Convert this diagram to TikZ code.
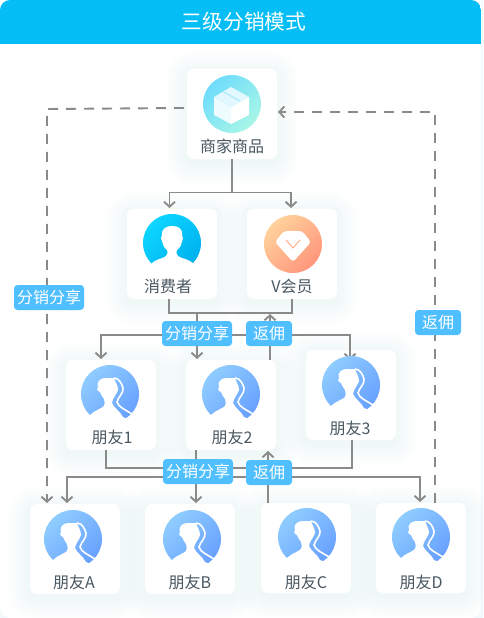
\documentclass[tikz,border=0pt]{standalone}
\usepackage{fontspec}
\setmainfont{Noto Sans CJK SC}
\usetikzlibrary{arrows.meta,calc}
\definecolor{hdr}{HTML}{05BEF5}
\definecolor{pagebg}{HTML}{E6F4FC}
\definecolor{linec}{HTML}{8A8A8A}
\definecolor{txt}{HTML}{4A5862}
\definecolor{badge}{HTML}{50BFFF}
\definecolor{shad}{HTML}{4FA8E8}
\definecolor{frA}{HTML}{8FCDFF}
\definecolor{frB}{HTML}{68A0FF}
\definecolor{cyA}{HTML}{0CD6FF}
\definecolor{cyB}{HTML}{00B0EF}
\definecolor{shopA}{HTML}{6EDCFC}
\definecolor{shopB}{HTML}{A8F6E6}
\definecolor{vipA}{HTML}{FFD29C}
\definecolor{vipB}{HTML}{FF967C}
\tikzset{
 x=1pt,y=-1pt,
 card/.style={fill=white,rounded corners=7pt,minimum width=90pt,minimum height=90pt,inner sep=0pt,outer sep=0pt},
 cardtext/.style={text=txt,font=\fontsize{16}{16}\selectfont,inner sep=0pt},
 badgebox/.style={fill=badge,text=white,rounded corners=3.5pt,font=\fontsize{16}{16}\selectfont,minimum height=25pt,inner sep=0pt,outer sep=0pt},
 conn/.style={draw=linec,line width=1.9pt},
 arrowed/.style={conn,-{Straight Barb[length=5pt,width=11pt,line width=1.9pt]}},
 dashline/.style={conn,dash pattern=on 10pt off 8pt},
 dasharrow/.style={dashline,-{Straight Barb[length=5pt,width=11pt,line width=1.9pt]}},
}
\newcommand{\softshadow}[2]{%
 \foreach \g in {22,19,...,1}{%
  \fill[shad,opacity=0.0065,rounded corners=\g pt+6pt]
   ($(#1,#2)+(-45-\g,-45-\g+4)$) rectangle ($(#1,#2)+(45+\g,45+\g+4)$);}}
\newcommand{\consumericon}[2]{%
 \begin{scope}[shift={(#1,#2)}]
  \shade[left color=cyA,right color=cyB,shading angle=45] (0,0) circle[radius=29];
  \fill[white] (-21,21) .. controls (-15,15) and (-9,16) .. (-6,13) .. controls (-4,11) and (-4,9) .. (-5,7)
   .. controls (-9,4) and (-9,1) .. (-10,-2) .. controls (-12,-4) and (-11,-7) .. (-10,-7)
   .. controls (-11,-15) and (-5,-17) .. (0,-17) .. controls (6,-17) and (11,-15) .. (10,-7)
   .. controls (11,-6) and (12,-4) .. (10,-2) .. controls (9,2) and (9,4) .. (5,7)
   .. controls (4,9) and (4,11) .. (6,13) .. controls (10,16) and (15,15) .. (22,21)
   -- (26,40) -- (-26,40) -- cycle;
 \end{scope}}
\newcommand{\personicon}[2]{%
 \begin{scope}[shift={(#1,#2)}]
  \shade[left color=frA,right color=frB,shading angle=45] (0,0) circle[radius=29];
  \fill[white] (-20,21) .. controls (-15,16) and (-9,15) .. (-6,12) .. controls (-5,10) and (-5,8) .. (-6,5)
   .. controls (-8,3) and (-9,0) .. (-10,-2) .. controls (-13,-3) and (-14,-6) .. (-12,-7)
   .. controls (-14,-14) and (-8,-16) .. (-4,-16) -- (4,-16)
   .. controls (5,-12) and (8,-9) .. (8,-4) .. controls (7,0) and (2,5) .. (2,9)
   .. controls (4,14) and (10,17) .. (13,23) -- (18,25) -- (26,40) -- (-26,40) -- cycle;
  \draw[white,line width=1.6pt] (4,-16) .. controls (9,-16) and (12,-10) .. (13,-6)
   .. controls (14,-1) and (8,3) .. (7,8) .. controls (8,13) and (16,16) .. (22,20);
 \end{scope}}
\begin{document}
\begin{tikzpicture}
\useasboundingbox (0,0) rectangle (483,618);
\fill[pagebg!55] (0,0) rectangle (483,618);
\fill[white,rounded corners=10pt] (0,-20) rectangle (481,618);
\begin{scope}
 \clip[rounded corners=10pt] (0,0) rectangle (481,80);
 \fill[hdr] (0,0) rectangle (481,44);
 \fill[white] (0,44) rectangle (481,80);
\end{scope}
\node[text=white,font=\fontsize{20.7}{21}\selectfont,inner sep=0pt] (title) at (244,22) {三级分销模式};
% shadows
\softshadow{232}{114}\softshadow{172}{254}\softshadow{292}{254}
\softshadow{111}{405}\softshadow{231}{405}\softshadow{351}{395}
\softshadow{75}{549}\softshadow{190}{549}\softshadow{306}{548}\softshadow{421}{548}
% cards
\node[card] (shop) at (232,114) {};
\node[card] (consumer) at (172,254) {};
\node[card] (vip) at (292,254) {};
\node[card] (f1) at (111,405) {};
\node[card] (f2) at (231,405) {};
\node[card] (f3) at (351,395) {};
\node[card] (fa) at (75,549) {};
\node[card] (fb) at (190,549) {};
\node[card] (fc) at (306,548) {};
\node[card] (fd) at (421,548) {};
% connectors
\coordinate (j0) at (232,192.5);
\coordinate (j1) at (232,313);
\coordinate (j2) at (197,335);
\coordinate (j3) at (229,468);
\coordinate (j4) at (196,477);
\coordinate (up1) at (270,314);
\draw[conn] (shop.south) -- (j0);
\draw[arrowed] (j0) -| ($(consumer.north)+(-2.5,-1)$);
\draw[arrowed] (j0) -| ($(vip.north)+(-1,-1)$);
\draw[conn] ($(consumer.south)+(-3,0)$) |- (j1) -| (vip.south);
\draw[conn] (j2 |- j1) -- (j2);
\draw[arrowed] (j2) -| ($(f1.north)+(-10,-1)$);
\draw[arrowed] (j2) -- ($(f2.north)+(-34,-1)$);
\draw[arrowed] (j2) -| ($(f3.north)+(-1,10)$);
\draw[arrowed] ($(f2.north)+(39,0)$) -- (up1);
\draw[conn] ($(f1.south)+(-5,0)$) |- (j3) -| ($(f3.south)+(1,0)$);
\draw[arrowed] ($(f2.south)+(-35,0)$) -- (j4) -- ($(fb.north)+(6,-1)$);
\draw[arrowed] (j4) -| ($(fa.north)+(-8,-1)$);
\draw[arrowed] (j4) -| ($(fd.north)+(-1,-1)$);
\draw[arrowed] ($(fc.north)+(-38,0)$) -- ($(f2.south)+(37,1)$);
\draw[dasharrow] ($(shop.west)+(-3,-6)$) -- (47,109) -- ($(fa.north)+(-28,-1)$);
\draw[dasharrow] ($(fd.north)+(14,0)$) -- (435,112) -- ($(shop.east)+(1,-2)$);
% shop icon
\shade[left color=shopA,right color=shopB,shading angle=45] (232,104) circle[radius=29];
\begin{scope}[shift={(232,104)}]
 \fill[white] (-1,3) -- (17,-7) -- (17,11) -- (-1,20) -- cycle;
 \fill[white!88!shopA] (-1,3) -- (-18,-7) -- (-18,11) -- (-1,20) -- cycle;
 \fill[white!80!shopA] (-1,-17) -- (17,-7) -- (-1,3) -- (-18,-7) -- cycle;
 \draw[shopA!70!white,line width=0.8pt] (-10,-13) -- (8,-3);
\end{scope}
% vip icon
\shade[left color=vipA,right color=vipB,shading angle=45] (293,244) circle[radius=29];
\begin{scope}[shift={(293,244)}]
 \fill[white,rounded corners=3pt] (-9,-13) -- (9,-13) -- (18,-2) -- (0,18) -- (-18,-2) -- cycle;
 \draw[vipB!70!vipA,line width=0.9pt] (-7,-4) -- (0,4) -- (7,-4);
\end{scope}
\consumericon{172}{243}
\personicon{110}{394}\personicon{231}{394}\personicon{351}{385}
\personicon{73}{539}\personicon{192}{539}\personicon{307}{537}\personicon{421}{537}
% labels
\node[cardtext] (t0) at (232,146) {商家商品};
\node[cardtext] (t1) at (168,286) {消费者};
\node[cardtext] (t2) at (292,286) {V会员};
\node[cardtext] (t3) at (112,437) {朋友1};
\node[cardtext] (t4) at (232,437) {朋友2};
\node[cardtext] (t5) at (350,428) {朋友3};
\node[cardtext] (t6) at (74,582) {朋友A};
\node[cardtext] (t7) at (190,582) {朋友B};
\node[cardtext] (t8) at (306,582) {朋友C};
\node[cardtext] (t9) at (421,582) {朋友D};
% badges
\node[badgebox,minimum width=70pt] (b1) at (197,333.5) {分销分享};
\node[badgebox,minimum width=46pt] (b2) at (269,333.5) {返佣};
\node[badgebox,minimum width=70pt] (b3) at (198,471.5) {分销分享};
\node[badgebox,minimum width=46pt] (b4) at (269,472.5) {返佣};
\node[badgebox,minimum width=70pt] (b5) at (49,297.5) {分销分享};
\node[badgebox,minimum width=46pt] (b6) at (438,322.5) {返佣};
\end{tikzpicture}
\end{document}
